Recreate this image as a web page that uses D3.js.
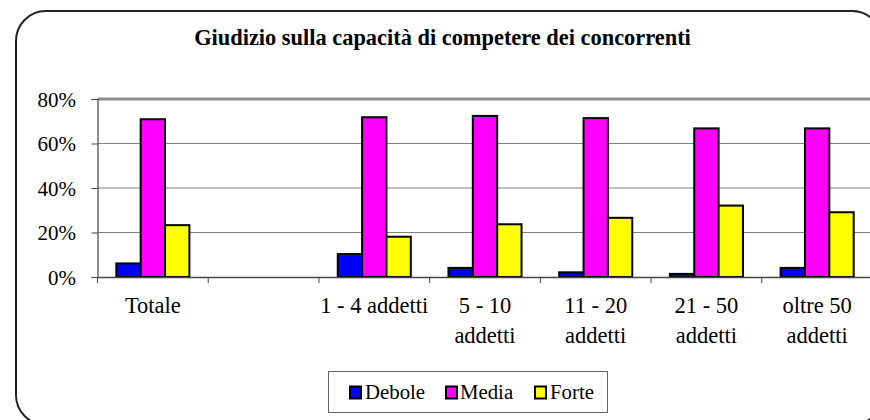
<!DOCTYPE html>
<html>
<head>
<meta charset="utf-8">
<script src="https://cdn.jsdelivr.net/npm/d3@7/dist/d3.min.js"></script>
<style>
html,body{margin:0;padding:0;background:#fff;overflow:hidden;}
svg{display:block;}
text{font-family:"Liberation Serif","Times New Roman",serif;fill:#000;}
</style>
</head>
<body>
<svg id="chart" width="870" height="420"></svg>
<script>
const title = "Giudizio sulla capacità di competere dei concorrenti";
const categories = ["Totale", "", "1 - 4 addetti", "5 - 10\naddetti", "11 - 20\naddetti", "21 - 50\naddetti", "oltre 50\naddetti"];
const seriesNames = ["Debole", "Media", "Forte"];
const seriesColors = ["#0000FF", "#FF00FF", "#FFFF00"];
const debole = [0.061, null, 0.103, 0.041, 0.021, 0.014, 0.041];
const media  = [0.709, null, 0.718, 0.724, 0.714, 0.668, 0.668];
const forte  = [0.233, null, 0.181, 0.237, 0.266, 0.321, 0.291];
const yTicks = [0, 0.2, 0.4, 0.6, 0.8];

(function () {
const svg = d3.select("#chart");
const pLeft = 97.5, pRight = 872.5, pTop = 99, pBottom = 277;

// outer rounded frame
svg.append("rect").attr("x", 16).attr("y", 11).attr("width", 866).attr("height", 414)
  .attr("rx", 30).attr("ry", 30).attr("fill", "#fff").attr("stroke", "#222").attr("stroke-width", 2);

svg.append("text").attr("x", 442.5).attr("y", 45).attr("text-anchor", "middle")
  .style("font-size", "22.4px").style("font-weight", "bold").text(title);

const y = d3.scaleLinear().domain([0, 0.8]).range([pBottom, pTop]);
const xOuter = d3.scaleBand().domain(categories).range([pLeft, pRight]).padding(0);
const x0 = d3.scaleBand().domain(categories).range([pLeft, pRight]).paddingInner(0.34).paddingOuter(0.17);
const x1 = d3.scaleBand().domain(seriesNames).range([0, x0.bandwidth()]);

// gridlines
svg.append("g").selectAll("line").data(yTicks.filter(t => t > 0 && t < 0.8)).join("line")
  .attr("x1", pLeft).attr("x2", pRight).attr("y1", d => y(d)).attr("y2", d => y(d))
  .attr("stroke", "#808080").attr("stroke-width", 1);
// plot area top border
svg.append("line").attr("x1", pLeft).attr("x2", pRight).attr("y1", y(0.8)).attr("y2", y(0.8))
  .attr("stroke", "#8c8c8c").attr("stroke-width", 3);

// y axis
const yAxis = svg.append("g").attr("transform", `translate(${pLeft},0)`)
  .call(d3.axisLeft(y).tickValues(yTicks).tickFormat(d3.format(".0%")).tickSize(6).tickPadding(15.5));
yAxis.attr("font-family", null).attr("font-size", null);
yAxis.select(".domain").attr("stroke", "#444").attr("stroke-width", 1.2);
yAxis.selectAll(".tick line").attr("stroke", "#444");
yAxis.selectAll(".tick text").style("font-size", "21px").attr("dy", "0.35em");

// bars
const values = [debole, media, forte];
const groups = svg.append("g").selectAll("g").data(categories).join("g")
  .attr("transform", d => `translate(${x0(d)},0)`);
groups.selectAll("rect").data((d, i) => seriesNames.map((s, j) => ({s, j, v: values[j][i]})).filter(o => o.v != null))
  .join("rect")
  .attr("x", o => x1(o.s)).attr("width", x1.bandwidth())
  .attr("y", o => y(o.v)).attr("height", o => y(0) - y(o.v))
  .attr("fill", o => seriesColors[o.j]).attr("stroke", "#000").attr("stroke-width", 2);

// x axis
const xAxis = svg.append("g").attr("transform", `translate(0,${pBottom})`)
  .call(d3.axisBottom(xOuter).tickSize(0).tickFormat(""));
xAxis.select(".domain").attr("stroke", "#444").attr("stroke-width", 1.5);
// boundary ticks
svg.append("g").selectAll("line").data(categories).join("line")
  .attr("x1", d => xOuter(d)).attr("x2", d => xOuter(d))
  .attr("y1", pBottom).attr("y2", pBottom + 6).attr("stroke", "#444");

// category labels
const lab = svg.append("g").selectAll("text").data(categories).join("text")
  .attr("x", d => xOuter(d) + xOuter.bandwidth() / 2).attr("y", 313)
  .attr("text-anchor", "middle").style("font-size", "22.5px");
lab.selectAll("tspan").data(d => d.split("\n")).join("tspan")
  .attr("x", function() { return d3.select(this.parentNode).attr("x"); })
  .attr("dy", (d, i) => i === 0 ? 0 : 30).text(d => d);

// legend
const lg = svg.append("g");
lg.append("rect").attr("x", 328.5).attr("y", 371.5).attr("width", 279).attr("height", 41)
  .attr("fill", "#fff").attr("stroke", "#666").attr("stroke-width", 1);
const legX = [350, 446, 535];
const legTX = [365, 460, 550];
seriesNames.forEach((s, i) => {
  lg.append("rect").attr("x", legX[i]).attr("y", 386.5).attr("width", 11).attr("height", 12)
    .attr("fill", seriesColors[i]).attr("stroke", "#000").attr("stroke-width", 2);
  lg.append("text").attr("x", legTX[i]).attr("y", 398.5).style("font-size", "20.8px").text(s);
});
})();
</script>
</body>
</html>
